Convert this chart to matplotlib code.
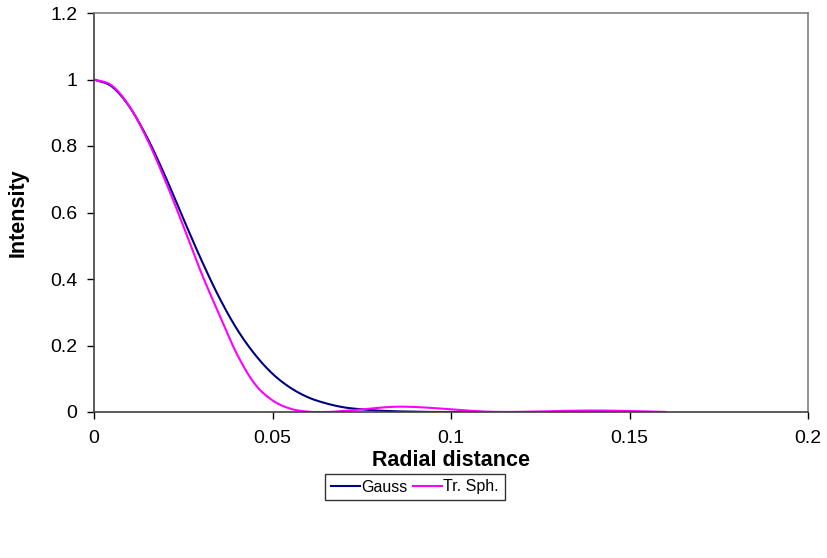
import matplotlib
matplotlib.use('Agg')
import matplotlib.pyplot as plt
import numpy as np

# radial distance samples (step 0.005)
r_gauss = np.round(np.arange(0, 0.1501, 0.005), 3)
gauss = [1.000, 0.979, 0.917, 0.823, 0.708, 0.582, 0.459, 0.346, 0.250, 0.174,
         0.115, 0.073, 0.044, 0.026, 0.014, 0.008, 0.004, 0.002, 0.001, 0.000,
         0.000, 0.000, 0.000, 0.000, 0.000, 0.000, 0.000, 0.000, 0.000, 0.000,
         0.000]

r_sph = np.round(np.arange(0, 0.1601, 0.005), 3)
tr_sph = [1.000, 0.982, 0.918, 0.818, 0.695, 0.560, 0.420, 0.295, 0.175, 0.085,
          0.035, 0.010, 0.001, 0.000, 0.003, 0.008, 0.013, 0.016, 0.015, 0.012,
          0.008, 0.004, 0.001, 0.000, 0.0005, 0.0015, 0.003, 0.004, 0.0045, 0.004,
          0.003, 0.0015, 0.0003]

x_ticks = [0, 0.05, 0.1, 0.15, 0.2]
x_labels = ["0", "0.05", "0.1", "0.15", "0.2"]
y_ticks = [0, 0.2, 0.4, 0.6, 0.8, 1, 1.2]
y_labels = ["0", "0.2", "0.4", "0.6", "0.8", "1", "1.2"]


def smooth(x, y, n=12):
    # Catmull-Rom spline through the points, like a spreadsheet "smoothed line"
    x = np.asarray(x, float)
    y = np.asarray(y, float)
    px = np.concatenate([[2 * x[0] - x[1]], x, [2 * x[-1] - x[-2]]])
    py = np.concatenate([[2 * y[0] - y[1]], y, [2 * y[-1] - y[-2]]])
    t = np.linspace(0, 1, n, endpoint=False)
    xs, ys = [], []
    for i in range(1, len(px) - 2):
        for p, out in ((px, xs), (py, ys)):
            p0, p1, p2, p3 = p[i - 1], p[i], p[i + 1], p[i + 2]
            out.append(0.5 * (2 * p1 + (-p0 + p2) * t
                              + (2 * p0 - 5 * p1 + 4 * p2 - p3) * t ** 2
                              + (-p0 + 3 * p1 - 3 * p2 + p3) * t ** 3))
    xs.append([x[-1]])
    ys.append([y[-1]])
    return np.concatenate(xs), np.concatenate(ys)


plt.rcParams['font.family'] = ['Liberation Sans', 'DejaVu Sans']

fig = plt.figure(figsize=(8.28, 5.58), dpi=100)
ax = fig.add_axes([94 / 828, 1 - 412 / 558, 714 / 828, 399 / 558])

gx, gy = smooth(r_gauss, gauss)
sx, sy = smooth(r_sph, tr_sph)
ax.plot(gx, gy, color="#000080", lw=1.5, label="Gauss")
ax.plot(sx, sy, color="#FF00FF", lw=1.5, label="Tr. Sph.")

ax.set_xlim(0, 0.2)
ax.set_ylim(0, 1.2)
ax.set_xticks(x_ticks)
ax.set_xticklabels(x_labels)
ax.set_yticks(y_ticks)
ax.set_yticklabels(y_labels)
ax.tick_params(axis='both', direction='out', length=5, width=1, labelsize=14,
               color="#000000", labelcolor="#000000")
ax.tick_params(axis='y', pad=7)
ax.tick_params(axis='x', pad=8)

for side in ("left", "bottom"):
    ax.spines[side].set_color("#404040")
    ax.spines[side].set_linewidth(1.2)
for side in ("top", "right"):
    ax.spines[side].set_color("#808080")
    ax.spines[side].set_linewidth(1.2)

ax.set_xlabel("Radial distance", fontsize=15.5, fontweight='bold', va='center')
ax.xaxis.set_label_coords(0.5, (412 - 461) / 399)
ax.set_ylabel("Intensity", fontsize=15.5, fontweight='bold', va='center', ha='center')
ax.yaxis.set_label_coords((18 - 94) / 714, 0.5)

leg = fig.legend(loc='center', bbox_to_anchor=(415 / 828, 1 - 487 / 558),
                 ncol=2, fontsize=11.5, frameon=True, fancybox=False,
                 edgecolor="#000000", handlelength=1.8, handletextpad=0.1,
                 columnspacing=0.35, borderpad=0.35, borderaxespad=0)
leg.get_frame().set_linewidth(1.0)

fig.savefig("out.png", dpi=100)
